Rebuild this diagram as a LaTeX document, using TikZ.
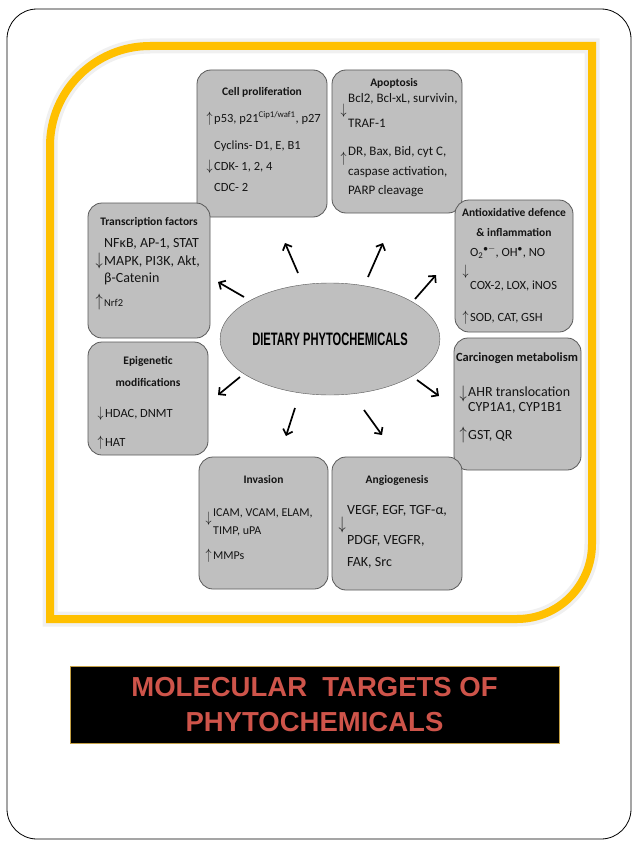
\documentclass[tikz,border=0pt]{standalone}
\usepackage{fontspec}
\setmainfont{Carlito}
\newfontfamily\arialfont{Liberation Sans}
\usetikzlibrary{
    arrows.meta,      % For arrow tips
    shapes.geometric, % For the ellipse
    positioning
}

\definecolor{cardgray}{RGB}{191,191,191}
\definecolor{cardline}{RGB}{89,89,89}
\definecolor{cardtext}{RGB}{20,20,20}
\definecolor{frameyellow}{RGB}{255,192,0}
\definecolor{titlered}{RGB}{206,84,74}
\definecolor{bannergold}{RGB}{196,160,70}

% small up/down arrows hanging left of a line
\newcommand{\arrUp}[1][0pt]{\llap{\raisebox{-#1}{\smash{\scalebox{1}[1.25]{$\uparrow$}}}\hspace{1.5pt}}}
\newcommand{\arrDown}[1][0pt]{\llap{\raisebox{-#1}{\smash{\scalebox{1}[1.25]{$\downarrow$}}}\hspace{1.5pt}}}

\begin{document}
\begin{tikzpicture}[
    x=1pt, y=-1pt, % pixel-like coordinates, y downwards
    card/.style={draw=cardline, line width=0.8pt, fill=cardgray, rounded corners=14pt, inner sep=0pt},
    hdr/.style={text=cardtext, font=\fontsize{11.5}{20}\selectfont\bfseries, align=center, inner sep=0pt},
    body/.style={text=cardtext, anchor=north west, inner sep=0pt},
    ray/.style={-{Straight Barb[length=5pt, width=10pt]}, line width=1.7pt},
    frameline/.style={draw=frameyellow, line width=8pt}
]
    \useasboundingbox (0,0) rectangle (638,851);

    % Slide frame
    \draw[line width=0.8pt, rounded corners=30pt] (7,9) rectangle (631,839);

    % Yellow frame with two round corners (soft halo first)
    \def\framePath{(50,146) .. controls (50,90.8) and (94.8,46) .. (150,46)
        -- (592,46) -- (592,544) .. controls (592,585.4) and (558.4,619) .. (517,619)
        -- (50,619) -- cycle}
    \draw[black!6, line width=15pt] \framePath;
    \draw[frameline] \framePath;

    % Cards
    \node[card, minimum width=130pt, minimum height=147pt] (prolif) at (262,143.5) {};
    \node[card, minimum width=130pt, minimum height=143pt] (apop)   at (397,141.5) {};
    \node[card, minimum width=118pt, minimum height=132pt] (antiox) at (514,266) {};
    \node[card, minimum width=127pt, minimum height=132pt] (carcin) at (517.5,404) {};
    \node[card, minimum width=122pt, minimum height=135pt] (transc) at (149,270.5) {};
    \node[card, minimum width=120pt, minimum height=113pt] (epigen) at (148,398.5) {};
    \node[card, minimum width=129pt, minimum height=132pt] (invas)  at (263.5,523) {};
    \node[card, minimum width=130pt, minimum height=133pt] (angio)  at (397,523.5) {};

    % Cell proliferation
    \node[hdr] (prolifHd) at (262,92) {Cell proliferation};
    \node[body, font=\fontsize{12.5}{21}\selectfont] (prolifBody) at (214,107.3) {%
        \begin{tabular}{@{}l@{}}
        \arrUp p53, p21\textsuperscript{Cip1/waf1}, p27\\[6pt]
        Cyclins- D1, E, B1\\
        \arrDown CDK- 1, 2, 4\\
        CDC- 2
        \end{tabular}};

    % Apoptosis
    \node[hdr] (apopHd) at (394,83) {Apoptosis};
    \node[body, font=\fontsize{13}{18.5}\selectfont] (apopBody) at (348,89.3) {%
        \begin{tabular}{@{}l@{}}
        \arrDown[12pt]Bcl2, Bcl-xL, survivin,\\
        TRAF-1\\[10pt]
        \arrUp[7pt]DR, Bax, Bid, cyt C,\\
        caspase activation,\\
        PARP cleavage
        \end{tabular}};

    % Antioxidative defence
    \node[hdr] (antioxHd) at (514,222) {Antioxidative defence\\\& inflammation};
    \node[body, font=\fontsize{12.5}{20}\selectfont] (antioxBody) at (470,242) {%
        \begin{tabular}{@{}l@{}}
        \arrDown[19pt]O\textsubscript{2}$^{\bullet-}$, OH$^{\bullet}$, NO\\[13pt]
        COX-2, LOX, iNOS\\[12pt]
        \arrUp SOD, CAT, GSH
        \end{tabular}};

    % Carcinogen metabolism
    \node[hdr, font=\fontsize{12.5}{20}\selectfont\bfseries] (carcinHd) at (517,358) {Carcinogen metabolism};
    \node[body, font=\fontsize{14}{15}\selectfont] (carcinBody) at (468,386) {%
        \begin{tabular}{@{}l@{}}
        \arrDown[2pt]AHR translocation\\
        CYP1A1, CYP1B1\\[13pt]
        \arrUp GST, QR
        \end{tabular}};

    % Transcription factors
    \node[hdr] (transcHd) at (149,222) {Transcription factors};
    \node[body, font=\fontsize{14}{17.5}\selectfont] (transcBody) at (104,235.3) {%
        \begin{tabular}{@{}l@{}}
        NFκB, AP-1, STAT\\
        \arrDown MAPK, PI3K, Akt,\\
        β-Catenin\\[6.5pt]
        \arrUp{\fontsize{10.5}{12}\selectfont Nrf2}
        \end{tabular}};

    % Epigenetic modifications
    \node[hdr, font=\fontsize{11.5}{22}\selectfont\bfseries] (epigenHd) at (148,371) {Epigenetic\\modifications};
    \node[body, font=\fontsize{12.5}{29}\selectfont] (epigenBody) at (105,396.7) {%
        \begin{tabular}{@{}l@{}}
        \arrDown HDAC, DNMT\\
        \arrUp HAT
        \end{tabular}};

    % Invasion
    \node[hdr] (invasHd) at (263.5,480) {Invasion};
    \node[body, font=\fontsize{12}{18}\selectfont] (invasBody) at (213,503.3) {%
        \begin{tabular}{@{}l@{}}
        \arrDown[6pt]ICAM, VCAM, ELAM,\\
        TIMP, uPA\\[7pt]
        \arrUp MMPs
        \end{tabular}};

    % Angiogenesis
    \node[hdr] (angioHd) at (397,480) {Angiogenesis};
    \node[body, font=\fontsize{14}{21.5}\selectfont] (angioBody) at (347,499.5) {%
        \begin{tabular}{@{}l@{}}
        \arrDown[15pt]VEGF, EGF, TGF-α,\\
        PDGF, VEGFR,\\
        FAK, Src
        \end{tabular}};

    % Centre ellipse
    \node[ellipse, draw=cardline, fill=cardgray, minimum width=202pt, minimum height=112pt, inner sep=0pt] (diet) at (330,339)
        {\scalebox{0.62}[1]{\arialfont\bfseries\fontsize{18}{18}\selectfont DIETARY PHYTOCHEMICALS}};

    % Rays out of the ellipse
    \foreach \i/\sx/\sy/\ex/\ey in {1/298/273/285/243, 2/368/277/383/243, 3/244/297/218/282,
        4/415/299/436/275, 5/240/377/218/395, 6/417/380/439/396, 7/295/408/286/436, 8/364/410/382/435} {
        \coordinate (rayS\i) at (\sx,\sy);
        \coordinate (rayE\i) at (\ex,\ey);
        \draw[ray] (rayS\i) -- (rayE\i);
    }

    % Title banner
    \node[draw=bannergold, line width=1pt, fill=black, minimum width=489pt, minimum height=77pt, inner sep=0pt] (banner) at (314.5,704.5) {};
    \node[text=titlered, align=center, font=\arialfont\bfseries\fontsize{27.5}{35}\selectfont, inner sep=0pt] (bannerTxt) at (banner.center)
        {MOLECULAR\ \ TARGETS OF\\PHYTOCHEMICALS};

\end{tikzpicture}
\end{document}
